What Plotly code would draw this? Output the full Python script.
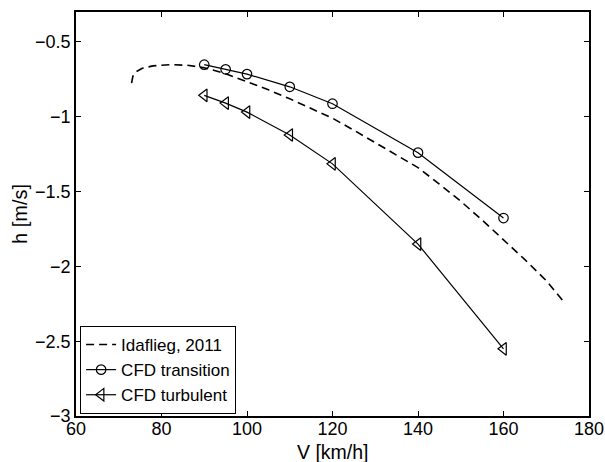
import plotly.graph_objects as go

# Idaflieg 2011 flight-measured polar (dashed)
ida_v = [73.0, 73.3, 74.0, 75.5, 78.0, 82.0, 86.0, 90.0, 95.0, 100.0, 105.0, 110.0,
         115.0, 120.0, 125.0, 130.0, 135.0, 140.0, 145.0, 150.0, 155.0, 160.0,
         165.0, 170.0, 174.5]
ida_h = [-0.775, -0.73, -0.70, -0.676, -0.66, -0.652, -0.656, -0.672, -0.712, -0.765,
         -0.82, -0.88, -0.945, -1.01, -1.09, -1.172, -1.255, -1.34, -1.45, -1.565,
         -1.69, -1.82, -1.955, -2.095, -2.25]

# CFD results
cfd_v = [90, 95, 100, 110, 120, 140, 160]
trans_h = [-0.652, -0.683, -0.715, -0.80, -0.913, -1.24, -1.677]
turb_h = [-0.857, -0.909, -0.969, -1.122, -1.315, -1.851, -2.551]

x_ticks = [60, 80, 100, 120, 140, 160, 180]
y_ticks = [-3, -2.5, -2, -1.5, -1, -0.5]
y_tick_text = ["\u22123", "\u22122.5", "\u22122", "\u22121.5", "\u22121", "\u22120.5"]

fig = go.Figure()
fig.add_trace(go.Scatter(
    x=ida_v, y=ida_h, mode="lines", name="Idaflieg, 2011",
    line=dict(color="black", width=1.6, dash="8px,5px")))
fig.add_trace(go.Scatter(
    x=cfd_v, y=trans_h, mode="lines+markers", name="CFD transition",
    line=dict(color="black", width=1.2),
    marker=dict(symbol="circle-open", size=9.5, color="black", line=dict(width=1.2))))
fig.add_trace(go.Scatter(
    x=cfd_v, y=turb_h, mode="lines+markers", name="CFD turbulent",
    line=dict(color="black", width=1.2),
    marker=dict(symbol="triangle-left-open", size=11, color="black", line=dict(width=1.2))))

axis_common = dict(
    showgrid=False, zeroline=False, showline=True, linecolor="black", linewidth=1.5,
    mirror="ticks", ticks="inside", ticklen=5, tickwidth=1, tickcolor="black",
    automargin=False,
    tickfont=dict(family="Liberation Sans, Arial", size=18, color="black"),
)

fig.update_layout(
    width=605, height=462,
    margin=dict(l=76, r=16, t=12, b=46),
    paper_bgcolor="white", plot_bgcolor="white",
    font=dict(family="Liberation Sans, Arial", color="black"),
    xaxis=dict(range=[60, 180], tickvals=x_ticks, ticklabelstandoff=-4, **axis_common),
    yaxis=dict(range=[-3, -0.3], tickvals=y_ticks, ticktext=y_tick_text,
               title=dict(text="h [m/s]", font=dict(size=20), standoff=2),
               **axis_common),
    legend=dict(x=0.008, y=0.005, xanchor="left", yanchor="bottom",
                bgcolor="white", bordercolor="black", borderwidth=1,
                font=dict(size=17, color="black"), tracegroupgap=0,
                itemwidth=30),
    showlegend=True,
    annotations=[dict(text="V [km/h]", xref="paper", yref="paper", x=0.5, y=0,
                      xanchor="center", yanchor="middle", yshift=-36, showarrow=False,
                      borderpad=0, font=dict(size=19.5, color="black"))],
)

fig.write_html("out.html")
